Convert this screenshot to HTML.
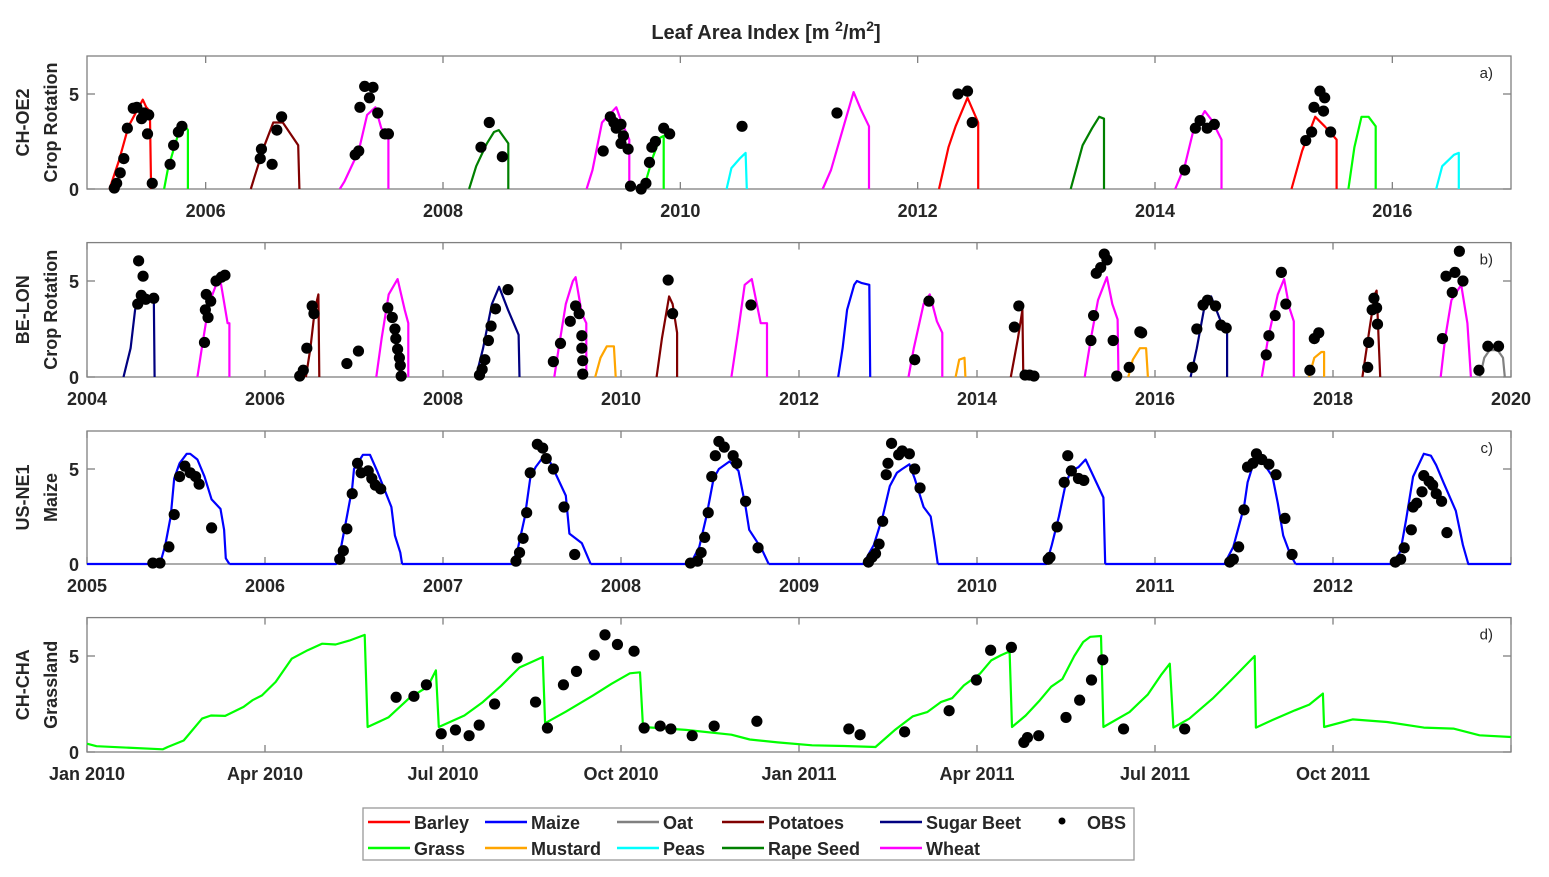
<!DOCTYPE html>
<html><head><meta charset="utf-8"><style>
html,body{margin:0;padding:0;background:#fff;}
svg{display:block;font-family:"Liberation Sans",Arial,sans-serif;}
text{fill:#262626;font-weight:bold;}
</style></head><body>
<svg id="chart" width="1549" height="877" viewBox="0 0 1549 877" xmlns="http://www.w3.org/2000/svg">
<text x="766" y="39" text-anchor="middle" font-size="20">Leaf Area Index [m <tspan dy="-8" font-size="14">2</tspan><tspan dy="8">/m</tspan><tspan dy="-8" font-size="14">2</tspan><tspan dy="8">]</tspan></text>
<g id="plots"></g>
<g id="legend"></g>
</svg>
<script>
// ---- Panel a: CH-OE2 (x in decimal years) ----
const aCrops = ['Barley','Grass','Potatoes','Wheat','Rape Seed','Wheat','Grass','Peas','Wheat','Barley','Rape Seed','Wheat','Barley','Grass','Peas'];
const aSeasons = [
 [[2005.19,0],[2005.27,1.5],[2005.35,3.3],[2005.47,4.7],[2005.50,4.3],[2005.53,4.1],[2005.54,0]],
 [[2005.65,0],[2005.68,1.0],[2005.74,2.3],[2005.78,3.1],[2005.83,3.3],[2005.85,3.1],[2005.85,0]],
 [[2006.38,0],[2006.41,0.6],[2006.49,2.2],[2006.57,3.5],[2006.65,3.5],[2006.78,2.3],[2006.79,0]],
 [[2007.13,0],[2007.17,0.4],[2007.29,2.0],[2007.36,3.9],[2007.43,4.3],[2007.48,3.2],[2007.54,2.8],[2007.54,0]],
 [[2008.22,0],[2008.28,1.2],[2008.37,2.4],[2008.43,3.0],[2008.47,3.1],[2008.55,2.4],[2008.55,0]],
 [[2009.21,0],[2009.26,1.0],[2009.34,3.5],[2009.46,4.3],[2009.50,3.6],[2009.57,2.6],[2009.57,0]],
 [[2009.69,0],[2009.77,1.7],[2009.83,2.7],[2009.86,2.8],[2009.86,0]],
 [[2010.39,0],[2010.43,1.1],[2010.50,1.6],[2010.55,1.9],[2010.56,0]],
 [[2011.20,0],[2011.27,1.0],[2011.39,3.6],[2011.46,5.1],[2011.52,4.2],[2011.59,3.3],[2011.59,0]],
 [[2012.18,0],[2012.26,2.2],[2012.32,3.3],[2012.42,4.8],[2012.51,3.5],[2012.51,0]],
 [[2013.29,0],[2013.39,2.3],[2013.47,3.2],[2013.53,3.8],[2013.57,3.7],[2013.57,0]],
 [[2014.17,0],[2014.25,1.2],[2014.32,3.0],[2014.42,4.1],[2014.48,3.6],[2014.56,2.6],[2014.56,0]],
 [[2015.15,0],[2015.24,2.0],[2015.35,3.8],[2015.43,3.3],[2015.53,2.6],[2015.53,0]],
 [[2015.63,0],[2015.68,2.2],[2015.74,3.8],[2015.80,3.8],[2015.86,3.3],[2015.86,0]],
 [[2016.37,0],[2016.42,1.2],[2016.52,1.8],[2016.56,1.9],[2016.56,0]]
];
const aObsT = [2005.23,2005.25,2005.28,2005.31,2005.34,2005.39,2005.42,2005.46,2005.48,2005.52,2005.51,2005.55,2005.70,2005.73,2005.77,2005.80,
 2006.47,2006.46,2006.56,2006.60,2006.64,2007.26,2007.29,2007.30,2007.34,2007.41,2007.38,2007.45,2007.51,2007.54,
 2008.32,2008.39,2008.50,2009.35,2009.41,2009.46,2009.50,2009.44,2009.52,2009.50,2009.56,2009.58,2009.67,2009.71,2009.74,2009.76,2009.79,2009.86,2009.91,
 2010.52,2011.32,2012.34,2012.42,2012.46,2014.25,2014.34,2014.38,2014.44,2014.50,2015.27,2015.32,2015.34,2015.39,2015.43,2015.42,2015.48];
const aObsV = [0.05,0.3,0.85,1.6,3.2,4.25,4.3,3.7,4.0,3.9,2.9,0.3,1.3,2.3,3.0,3.3,
 2.1,1.6,1.3,3.1,3.8,1.8,2.0,4.3,5.4,5.35,4.8,4.0,2.9,2.9,
 2.2,3.5,1.7,2.0,3.8,3.2,3.4,3.5,2.8,2.4,2.1,0.15,0.0,0.3,1.4,2.2,2.5,3.2,2.9,
 3.3,4.0,5.0,5.15,3.5,1.0,3.2,3.6,3.2,3.4,2.55,3.0,4.3,5.15,4.8,4.1,3.0];
const aTicks = [2006,2008,2010,2012,2014,2016];
const aTickLabels = ['2006','2008','2010','2012','2014','2016'];

// ---- Panel b: BE-LON ----
const bCrops = ['Sugar Beet','Wheat','Potatoes','Wheat','Sugar Beet','Wheat','Mustard','Potatoes','Wheat','Maize','Wheat','Mustard','Potatoes','Wheat','Mustard','Sugar Beet','Wheat','Mustard','Potatoes','Wheat','Oat'];
const bSeasons = [
 [[2004.41,0],[2004.49,1.5],[2004.54,3.5],[2004.60,4.4],[2004.66,4.2],[2004.75,4.2],[2004.76,0]],
 [[2005.24,0],[2005.29,1.5],[2005.37,3.8],[2005.45,4.8],[2005.50,5.0],[2005.58,2.8],[2005.60,2.8],[2005.60,0]],
 [[2006.46,0],[2006.51,1.5],[2006.56,3.5],[2006.60,4.3],[2006.61,0]],
 [[2007.25,0],[2007.31,2.0],[2007.39,4.3],[2007.49,5.1],[2007.57,3.5],[2007.61,2.8],[2007.61,0]],
 [[2008.37,0],[2008.45,1.5],[2008.55,3.8],[2008.63,4.7],[2008.73,3.5],[2008.85,2.2],[2008.86,0]],
 [[2009.25,0],[2009.30,1.5],[2009.38,3.8],[2009.46,5.0],[2009.49,5.2],[2009.56,3.3],[2009.61,2.8],[2009.61,0]],
 [[2009.71,0],[2009.77,1.0],[2009.84,1.6],[2009.92,1.6],[2009.94,0]],
 [[2010.40,0],[2010.46,2.0],[2010.54,4.2],[2010.58,3.8],[2010.63,2.3],[2010.63,0]],
 [[2011.24,0],[2011.32,2.5],[2011.39,4.8],[2011.47,5.1],[2011.57,2.8],[2011.64,2.8],[2011.64,0]],
 [[2012.44,0],[2012.49,1.5],[2012.54,3.5],[2012.62,4.8],[2012.65,5.0],[2012.70,4.9],[2012.79,4.8],[2012.80,0]],
 [[2013.23,0],[2013.29,1.5],[2013.40,3.8],[2013.47,4.3],[2013.55,2.9],[2013.61,2.3],[2013.61,0]],
 [[2013.76,0],[2013.80,0.9],[2013.86,1.0],[2013.87,0]],
 [[2014.38,0],[2014.46,2.0],[2014.51,3.5],[2014.52,0]],
 [[2015.21,0],[2015.28,2.0],[2015.36,4.0],[2015.46,5.2],[2015.52,3.8],[2015.58,3.0],[2015.59,0]],
 [[2015.70,0],[2015.75,0.9],[2015.83,1.5],[2015.90,1.5],[2015.92,0]],
 [[2016.40,0],[2016.47,1.5],[2016.55,3.5],[2016.63,4.2],[2016.73,3.0],[2016.81,2.4],[2016.81,0]],
 [[2017.20,0],[2017.27,2.0],[2017.38,4.3],[2017.45,5.1],[2017.51,3.6],[2017.56,2.9],[2017.56,0]],
 [[2017.73,0],[2017.79,1.0],[2017.87,1.3],[2017.90,1.3],[2017.90,0]],
 [[2018.33,0],[2018.41,2.5],[2018.47,4.3],[2018.49,4.5],[2018.53,0]],
 [[2019.21,0],[2019.26,2.0],[2019.33,4.0],[2019.44,4.8],[2019.51,2.8],[2019.55,0]],
 [[2019.65,0],[2019.70,1.0],[2019.76,1.4],[2019.85,1.4],[2019.91,1.0],[2019.93,0]]
];
const bObsT = [2004.58,2004.63,2004.61,2004.57,2004.66,2004.75,2005.32,2005.33,2005.36,2005.34,2005.39,2005.45,2005.51,2005.55,
 2006.39,2006.43,2006.47,2006.53,2006.55,2006.92,2007.05,2007.38,2007.43,2007.46,2007.47,2007.49,2007.51,2007.52,2007.53,
 2008.41,2008.44,2008.47,2008.51,2008.54,2008.59,2008.73,2009.24,2009.32,2009.43,2009.49,2009.53,2009.56,2009.56,2009.57,2009.57,
 2010.53,2010.58,2011.46,2013.46,2013.30,2014.47,2014.42,2014.54,2014.59,2014.64,
 2015.28,2015.31,2015.34,2015.39,2015.43,2015.46,2015.53,2015.57,2015.71,2015.83,2015.85,
 2016.42,2016.47,2016.54,2016.59,2016.68,2016.74,2016.80,2017.25,2017.28,2017.35,2017.42,2017.47,2017.74,2017.79,2017.84,
 2018.39,2018.40,2018.44,2018.46,2018.49,2018.50,2019.23,2019.27,2019.37,2019.42,2019.34,2019.46,2019.64,2019.74,2019.86];
const bObsV = [6.05,5.25,4.25,3.8,4.05,4.1,1.8,3.5,3.1,4.3,3.95,5.0,5.2,5.3,
 0.05,0.35,1.5,3.7,3.3,0.7,1.35,3.6,3.1,2.5,2.0,1.45,1.0,0.6,0.05,
 0.1,0.4,0.9,1.9,2.65,3.55,4.55,0.8,1.75,2.9,3.7,3.3,2.15,1.5,0.85,0.15,
 5.05,3.3,3.75,3.95,0.9,3.7,2.6,0.1,0.1,0.05,
 1.9,3.2,5.4,5.7,6.4,6.1,1.9,0.05,0.5,2.35,2.3,
 0.5,2.5,3.75,4.0,3.7,2.7,2.55,1.15,2.15,3.2,5.45,3.8,0.35,2.0,2.3,
 0.5,1.8,3.5,4.1,3.6,2.75,2.0,5.25,5.45,6.55,4.4,5.0,0.35,1.6,1.6];
const bTicks = [2004,2006,2008,2010,2012,2014,2016,2018,2020];
const bTickLabels = ['2004','2006','2008','2010','2012','2014','2016','2018','2020'];

// ---- Panel c: US-NE1 maize ----
const cSeasons = [
 [[2005.0,0],[2005.41,0],[2005.44,1.0],[2005.47,2.5],[2005.49,4.5],[2005.52,5.3],[2005.56,5.8],[2005.58,5.8],[2005.62,5.5],[2005.66,4.6],[2005.70,3.4],[2005.75,2.9],[2005.77,1.8],[2005.78,0.3],[2005.80,0]],
 [[2005.80,0],[2006.40,0],[2006.43,1.0],[2006.46,2.5],[2006.49,4.0],[2006.50,5.0],[2006.55,5.75],[2006.59,5.75],[2006.63,4.9],[2006.71,3.0],[2006.73,1.5],[2006.76,0.6],[2006.77,0]],
 [[2006.77,0],[2007.39,0],[2007.42,0.8],[2007.46,2.5],[2007.49,4.5],[2007.52,5.1],[2007.56,5.6],[2007.59,5.6],[2007.62,5.0],[2007.69,3.6],[2007.71,1.6],[2007.78,1.1],[2007.83,0]],
 [[2007.83,0],[2008.39,0],[2008.44,0.9],[2008.48,2.5],[2008.52,4.5],[2008.55,5.0],[2008.61,5.4],[2008.66,4.9],[2008.70,3.0],[2008.72,1.8],[2008.79,0.8],[2008.83,0]],
 [[2008.83,0],[2009.36,0],[2009.42,1.0],[2009.47,2.5],[2009.51,4.1],[2009.55,4.8],[2009.58,5.0],[2009.62,5.25],[2009.65,4.5],[2009.70,3.0],[2009.74,2.5],[2009.76,1.3],[2009.78,0]],
 [[2009.78,0],[2010.39,0],[2010.42,1.0],[2010.46,2.5],[2010.50,4.3],[2010.53,4.9],[2010.57,5.1],[2010.61,5.5],[2010.66,4.5],[2010.71,3.5],[2010.72,0]],
 [[2010.72,0],[2011.39,0],[2011.44,0.9],[2011.50,3.0],[2011.52,4.3],[2011.55,5.2],[2011.57,5.5],[2011.61,5.3],[2011.66,4.6],[2011.69,3.2],[2011.72,1.5],[2011.76,0.5],[2011.79,0]],
 [[2011.79,0],[2012.34,0],[2012.38,0.7],[2012.41,2.3],[2012.45,4.6],[2012.51,5.8],[2012.55,5.7],[2012.58,5.2],[2012.62,4.3],[2012.69,2.8],[2012.73,1.0],[2012.76,0],[2013.0,0]]
];
const cObsT = [2005.37,2005.41,2005.46,2005.49,2005.52,2005.55,2005.58,2005.61,2005.63,2005.70,
 2006.42,2006.44,2006.46,2006.49,2006.52,2006.54,2006.58,2006.60,2006.62,2006.65,
 2007.41,2007.43,2007.45,2007.47,2007.49,2007.53,2007.56,2007.58,2007.62,2007.68,2007.74,
 2008.39,2008.43,2008.45,2008.47,2008.49,2008.51,2008.53,2008.55,2008.58,2008.63,2008.65,2008.70,2008.77,
 2009.39,2009.41,2009.43,2009.45,2009.47,2009.49,2009.50,2009.52,2009.56,2009.58,2009.62,2009.65,2009.68,
 2010.40,2010.41,2010.45,2010.49,2010.51,2010.53,2010.57,2010.60,
 2011.42,2011.44,2011.47,2011.50,2011.52,2011.55,2011.57,2011.60,2011.64,2011.68,2011.73,2011.77,
 2012.35,2012.38,2012.40,2012.44,2012.45,2012.47,2012.50,2012.51,2012.54,2012.56,2012.58,2012.61,2012.64];
const cObsV = [0.05,0.05,0.9,2.6,4.6,5.15,4.8,4.6,4.2,1.9,
 0.25,0.7,1.85,3.7,5.3,4.8,4.9,4.5,4.15,3.95,
 0.15,0.6,1.35,2.7,4.8,6.3,6.1,5.55,5.0,3.0,0.5,
 0.05,0.15,0.6,1.4,2.7,4.6,5.7,6.45,6.15,5.7,5.3,3.3,0.85,
 0.1,0.35,0.55,1.05,2.25,4.7,5.3,6.35,5.75,5.95,5.8,5.0,4.0,
 0.25,0.35,1.95,4.3,5.7,4.9,4.5,4.4,
 0.1,0.25,0.9,2.85,5.1,5.3,5.8,5.5,5.25,4.7,2.4,0.5,
 0.1,0.25,0.85,1.8,3.0,3.2,3.8,4.65,4.35,4.15,3.7,3.3,1.65];
const cTicks = [2005,2006,2007,2008,2009,2010,2011,2012,2013];
const cTickLabels = ['2005','2006','2007','2008','2009','2010','2011','2012',''];

// ---- Panel d: CH-CHA grassland (x in months since Jan 2010) ----
const dLine = [[0,0.43],[0.16,0.3],[1.28,0.14],[1.36,0.26],[1.63,0.6],[1.94,1.74],[2.09,1.9],[2.33,1.88],[2.64,2.35],[2.79,2.7],[2.95,2.95],[3.18,3.65],[3.45,4.86],[3.72,5.3],[3.96,5.64],[4.19,5.6],[4.42,5.8],[4.68,6.1],
 [4.73,1.3],[5.08,1.8],[5.43,2.8],[5.74,3.4],[5.88,4.25],[5.93,1.3],[6.36,1.9],[6.67,2.6],[6.98,3.45],[7.29,4.4],[7.68,4.95],[7.72,1.5],[8.07,2.1],[8.53,2.95],[8.84,3.55],[9.15,4.1],[9.32,4.15],[9.37,1.3],
 [10.09,1.15],[10.86,0.9],[11.17,0.65],[11.64,0.5],[12.22,0.35],[12.76,0.31],[13.29,0.26],[13.61,1.13],[13.92,1.86],[14.16,2.08],[14.39,2.6],[14.58,2.8],[14.78,3.47],[15.05,4.08],[15.24,4.77],[15.40,5.03],[15.55,5.24],
 [15.59,1.3],[15.82,1.9],[16.06,2.7],[16.25,3.4],[16.44,3.8],[16.64,5.0],[16.79,5.73],[16.91,6.0],[17.09,6.04],[17.13,1.3],[17.57,2.08],[17.88,3.0],[18.10,4.0],[18.25,4.6],[18.31,1.27],[18.58,1.74],[18.97,2.78],[19.28,3.73],[19.68,5.0],
 [19.70,1.27],[19.97,1.65],[20.36,2.17],[20.60,2.47],[20.83,3.04],[20.85,1.3],[21.33,1.7],[21.91,1.56],[22.53,1.27],[23.03,1.22],[23.47,0.87],[24,0.78]];
const dObsT = [5.21,5.51,5.72,5.97,6.21,6.44,6.61,6.87,7.25,7.56,7.76,8.03,8.25,8.55,8.73,8.94,9.22,9.39,9.66,9.84,10.20,10.57,11.29,
 12.84,13.03,13.78,14.53,14.99,15.23,15.58,15.79,15.85,16.04,16.50,16.73,16.93,17.12,17.47,18.50];
const dObsV = [2.85,2.9,3.5,0.95,1.15,0.85,1.4,2.5,4.9,2.6,1.25,3.5,4.2,5.05,6.1,5.6,5.25,1.25,1.35,1.2,0.85,1.35,1.6,
 1.2,0.9,1.05,2.15,3.75,5.3,5.45,0.5,0.75,0.85,1.8,2.7,3.75,4.8,1.2,1.2];
const dTicks = [0,3,6,9,12,15,18,21,24];
const dTickLabels = ['Jan 2010','Apr 2010','Jul 2010','Oct 2010','Jan 2011','Apr 2011','Jul 2011','Oct 2011',''];

const colors = {'Barley':'#ff0000','Maize':'#0000ff','Oat':'#808080','Potatoes':'#800000','Sugar Beet':'#000080',
 'Grass':'#00ff00','Mustard':'#ffa500','Peas':'#00ffff','Rape Seed':'#008000','Wheat':'#ff00ff'};

const NS='http://www.w3.org/2000/svg';
const root=document.getElementById('plots');
function mk(tag,attrs,parent){const e=document.createElementNS(NS,tag);for(const k in attrs)e.setAttribute(k,attrs[k]);(parent||root).appendChild(e);return e;}

const L=87,R=1511;
function panel(cfg){
 const g=mk('g',{});
 
 
 const xs=v=>L+(v-cfg.x0)/(cfg.x1-cfg.x0)*(R-L);
 const ys=v=>cfg.y0-v*cfg.k;
 const top=ys(7);
 const fr=mk('rect',{x:L,y:top,width:R-L,height:cfg.y0-top,fill:'#fff',stroke:'#808080','stroke-width':1.3},g);
 
 
 cfg.ticks.forEach((t,i)=>{
  const x=xs(t);
  mk('line',{x1:x,y1:cfg.y0,x2:x,y2:cfg.y0-7,stroke:'#808080','stroke-width':1.3},g);
  mk('line',{x1:x,y1:top,x2:x,y2:top+7,stroke:'#808080','stroke-width':1.3},g);
  if(cfg.labels[i]){const tx=mk('text',{x:x,y:cfg.y0+28,'text-anchor':'middle','font-size':18},g);tx.textContent=cfg.labels[i];
   
   }
 });
 [0,5].forEach(v=>{
  const y=ys(v);
  mk('line',{x1:L,y1:y,x2:L+8,y2:y,stroke:'#808080','stroke-width':1.3},g);
  mk('line',{x1:R,y1:y,x2:R-8,y2:y,stroke:'#808080','stroke-width':1.3},g);
  const tx=mk('text',{x:L-8,y:y+7,'text-anchor':'end','font-size':18},g);tx.textContent=String(v);
  
  
 });
 cfg.series.forEach(s=>{
  const p=mk('polyline',{points:s.pts.map(q=>xs(q[0]).toFixed(1)+','+ys(q[1]).toFixed(1)).join(' '),fill:'none',stroke:colors[s.crop],'stroke-width':2.2,'stroke-linejoin':'round'},g);
  
  
 });
 cfg.obsT.forEach((t,i)=>{
  const c=mk('circle',{cx:xs(t),cy:ys(cfg.obsV[i]),r:5.6,fill:'#000'},g);
  
  
 });
 const pl=mk('text',{x:R-18,y:top+22,'text-anchor':'end','font-size':15,style:'font-weight:normal'},g);pl.textContent=cfg.tag;
 
 
 const cy=(top+cfg.y0)/2;
 cfg.ytitle.forEach((line,i)=>{
  const x=cfg.ytitle.length===2?(i===0?29:57):45;
  const tx=mk('text',{x:x,y:cy,'text-anchor':'middle','font-size':18,transform:'rotate(-90 '+x+' '+cy+')'},g);
  tx.textContent=line;
  
  
 });
}
panel({name:'panel-a-ch-oe2',x0:2005,x1:2017,y0:189,k:19,ticks:aTicks,labels:aTickLabels,series:aSeasons.map((p,i)=>({crop:aCrops[i],pts:p})),obsT:aObsT,obsV:aObsV,tag:'a)',ytitle:['CH-OE2','Crop Rotation']});
panel({name:'panel-b-be-lon',x0:2004,x1:2020,y0:377,k:19.2,ticks:bTicks,labels:bTickLabels,series:bSeasons.map((p,i)=>({crop:bCrops[i],pts:p})),obsT:bObsT,obsV:bObsV,tag:'b)',ytitle:['BE-LON','Crop Rotation']});
panel({name:'panel-c-us-ne1',x0:2005,x1:2013,y0:564,k:19,ticks:cTicks,labels:cTickLabels,series:cSeasons.map(p=>({crop:'Maize',pts:p})),obsT:cObsT,obsV:cObsV,tag:'c)',ytitle:['US-NE1','Maize']});
panel({name:'panel-d-ch-cha',x0:0,x1:24,y0:752,k:19.2,ticks:dTicks,labels:dTickLabels,series:[{crop:'Grass',pts:dLine}],obsT:dObsT,obsV:dObsV,tag:'d)',ytitle:['CH-CHA','Grassland']});

// legend
const lg=document.getElementById('legend');
mk('rect',{x:363,y:808,width:771,height:52,fill:'#fff',stroke:'#999','stroke-width':1.3},lg);
const legRows=[['Barley','Maize','Oat','Potatoes','Sugar Beet'],['Grass','Mustard','Peas','Rape Seed','Wheat']];
const legX=[368,485,617,722,880];
legRows.forEach((row,r)=>{
 const y=r===0?822:848;
 row.forEach((name,i)=>{
  const ln=mk('line',{x1:legX[i],y1:y,x2:legX[i]+42,y2:y,stroke:colors[name],'stroke-width':2.5},lg);
  
  
  const t=mk('text',{x:legX[i]+46,y:y+7,'font-size':18},lg);t.textContent=name;
  
  
 });
});
const od=mk('circle',{cx:1062,cy:821,r:3.5,fill:'#000'},lg);


const ot=mk('text',{x:1087,y:829,'font-size':18},lg);ot.textContent='OBS';


</script>
</body></html>
